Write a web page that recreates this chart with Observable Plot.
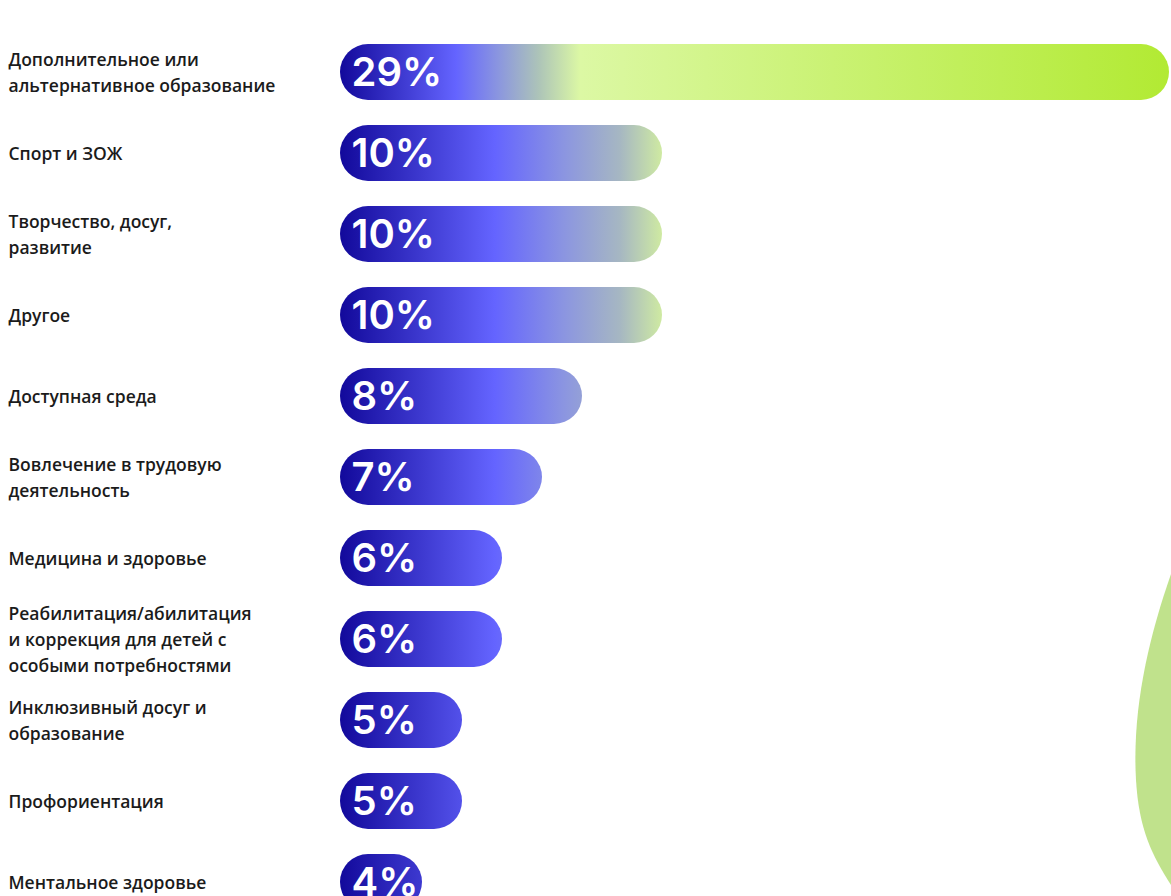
<!DOCTYPE html>
<html><head><meta charset="utf-8">
<script src="https://cdn.jsdelivr.net/npm/d3@7"></script>
<script src="https://cdn.jsdelivr.net/npm/@observablehq/plot@0.6"></script>
<style>
html,body{margin:0;padding:0;background:#fff}
#wrap{position:relative;width:1171px;height:896px;overflow:hidden;background:#fff}
#wrap svg.plot{position:absolute;left:0;top:0;overflow:hidden}
#leaf{position:absolute;left:0;top:0;pointer-events:none}
</style></head>
<body><div id="wrap"></div>
<script>
const categories = [
  "Дополнительное или\nальтернативное образование",
  "Спорт и ЗОЖ",
  "Творчество, досуг,\nразвитие",
  "Другое",
  "Доступная среда",
  "Вовлечение в трудовую\nдеятельность",
  "Медицина и здоровье",
  "Реабилитация/абилитация\nи коррекция для детей с\nособыми потребностями",
  "Инклюзивный досуг и\nобразование",
  "Профориентация",
  "Ментальное здоровье"
];
const values = [29, 10, 10, 10, 8, 7, 6, 6, 5, 5, 4];
const valueLabels = ["29%", "10%", "10%", "10%", "8%", "7%", "6%", "6%", "5%", "5%", "4%"];

const data = categories.map((c, i) => ({category: c, value: values[i], label: valueLabels[i]}));
const maxValue = d3.max(values);
const secondValue = d3.max(values.filter(v => v < maxValue));
const BAR_INSET = 78;

function gradients(index, scales) {
  const ns = "http://www.w3.org/2000/svg";
  const defs = document.createElementNS(ns, "defs");
  const mk = (id, attrs, stops) => {
    const g = document.createElementNS(ns, "linearGradient");
    g.setAttribute("id", id);
    for (const [k, v] of Object.entries(attrs)) g.setAttribute(k, v);
    for (const [o, c] of stops) {
      const s = document.createElementNS(ns, "stop");
      s.setAttribute("offset", o);
      s.setAttribute("stop-color", c);
      g.appendChild(s);
    }
    defs.appendChild(g);
  };
  const x0 = scales.x(0) + BAR_INSET, x1 = scales.x(secondValue);
  mk("gShort", {gradientUnits: "userSpaceOnUse", x1: x0, x2: x1, y1: 0, y2: 0}, [
    [0, "#12099b"], [0.48, "#6464ff"], [0.7, "#8c96e0"], [0.87, "#a6b7c2"], [1, "#cfeaa2"]
  ]);
  mk("gLong", {x1: 0, x2: 1, y1: 0, y2: 0}, [
    [0, "#12099b"], [0.14, "#6464ff"], [0.19, "#8a95e0"], [0.24, "#adc4b8"], [0.29, "#dcf8a4"], [1, "#b2ea33"]
  ]);
  return defs;
}

const plot = Plot.plot({
  width: 1171,
  height: 896,
  marginLeft: 0, marginRight: 0, marginTop: 0, marginBottom: 0,
  style: {background: "white", overflow: "hidden"},
  x: {type: "linear", domain: [0, secondValue, maxValue], range: [262, 662, 1169], axis: null},
  y: {domain: categories, range: [31.5, 922.5], paddingInner: 0.31, paddingOuter: 0.155, axis: null},
  marks: [
    gradients,
    Plot.barX(data.filter(d => d.value === maxValue), {x: "value", y: "category", fill: "url(#gLong)", insetLeft: BAR_INSET, rx: 28}),
    Plot.barX(data.filter(d => d.value !== maxValue), {x: "value", y: "category", fill: "url(#gShort)", insetLeft: BAR_INSET, rx: 28}),
    Plot.text(data, {x: 0, y: "category", text: "label", textAnchor: "start", dx: BAR_INSET + 11, dy: 1,
      fill: "white", fontSize: 40, fontWeight: 600, fontFamily: "Inter", letterSpacing: "-1.5px"}),
    Plot.text(data, {y: "category", text: "category", frameAnchor: "left", dx: 8, dy: -2, textAnchor: "start",
      lineHeight: 1.49, fontSize: 17.5, fontWeight: 600, fontFamily: "Open Sans", letterSpacing: "1px", fill: "#1b1b1b"})
  ]
});
document.getElementById("wrap").appendChild(plot);

// decorative leaf at right edge
const leaf = d3.select("#wrap").append("svg").attr("id", "leaf").attr("width", 1171).attr("height", 896);
leaf.append("path")
  .attr("d", "M1171,574 C1148,640 1132,710 1136,780 C1139,830 1152,855 1171,885 Z")
  .attr("fill", "#c0e28c");
</script>
</body></html>
